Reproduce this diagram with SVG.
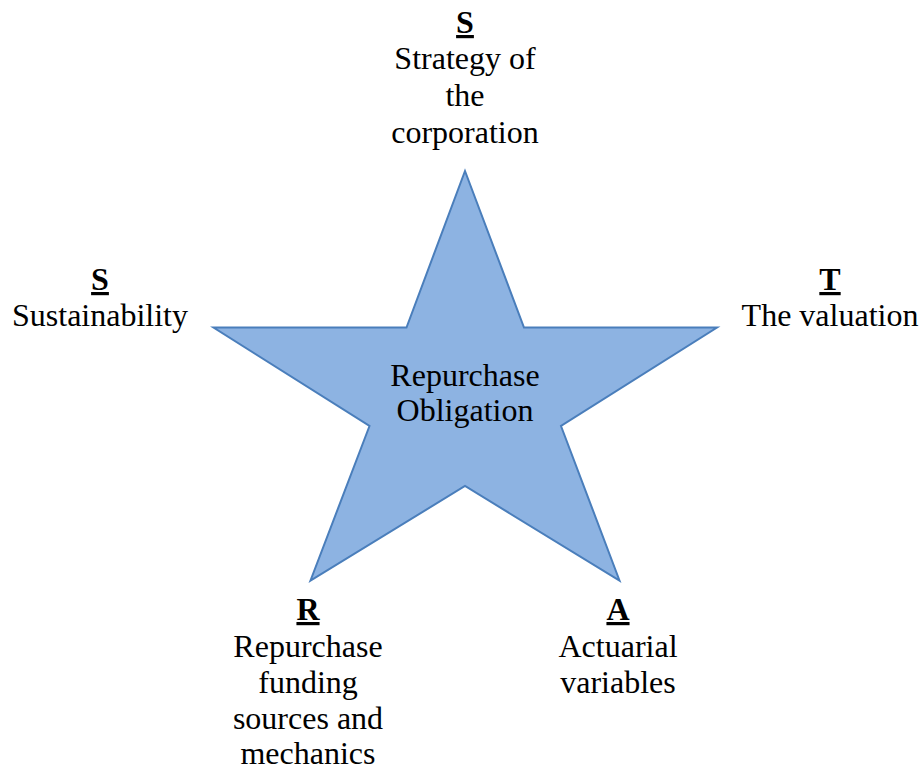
<svg xmlns="http://www.w3.org/2000/svg" width="920" height="772" viewBox="0 0 920 772">
<style>
text{font-family:"Liberation Serif","Times New Roman",serif;font-size:32px;fill:#000;text-anchor:middle}
.k{font-weight:bold;text-decoration:underline}
.star{fill:#8DB3E2;stroke:#4A7EBB;stroke-width:2;stroke-linejoin:miter}
</style>
<rect width="920" height="772" fill="#fff"/>
<g id="star">
<polygon class="star" points="465,171 524,327.5 717,327.5 561,426 619.5,580.5 465,486 310.5,580.5 369.5,426 213.5,327.5 406.5,327.5"/>
<text x="465" y="386">Repurchase</text>
<text x="465" y="421">Obligation</text>
</g>
<g id="s-top">
<text class="k" x="465" y="33">S</text>
<text x="465" y="69">Strategy of</text>
<text x="465" y="106">the</text>
<text x="465" y="143">corporation</text>
</g>
<g id="t-right">
<text class="k" x="830" y="290">T</text>
<text x="830" y="326">The valuation</text>
</g>
<g id="s-left">
<text class="k" x="100" y="290">S</text>
<text x="100" y="326">Sustainability</text>
</g>
<g id="r-bottom">
<text class="k" x="308" y="620">R</text>
<text x="308" y="657">Repurchase</text>
<text x="308" y="693">funding</text>
<text x="308" y="729">sources and</text>
<text x="308" y="764">mechanics</text>
</g>
<g id="a-bottom">
<text class="k" x="618" y="620">A</text>
<text x="618" y="657">Actuarial</text>
<text x="618" y="693">variables</text>
</g>
<g id="connectors"></g>
</svg>
